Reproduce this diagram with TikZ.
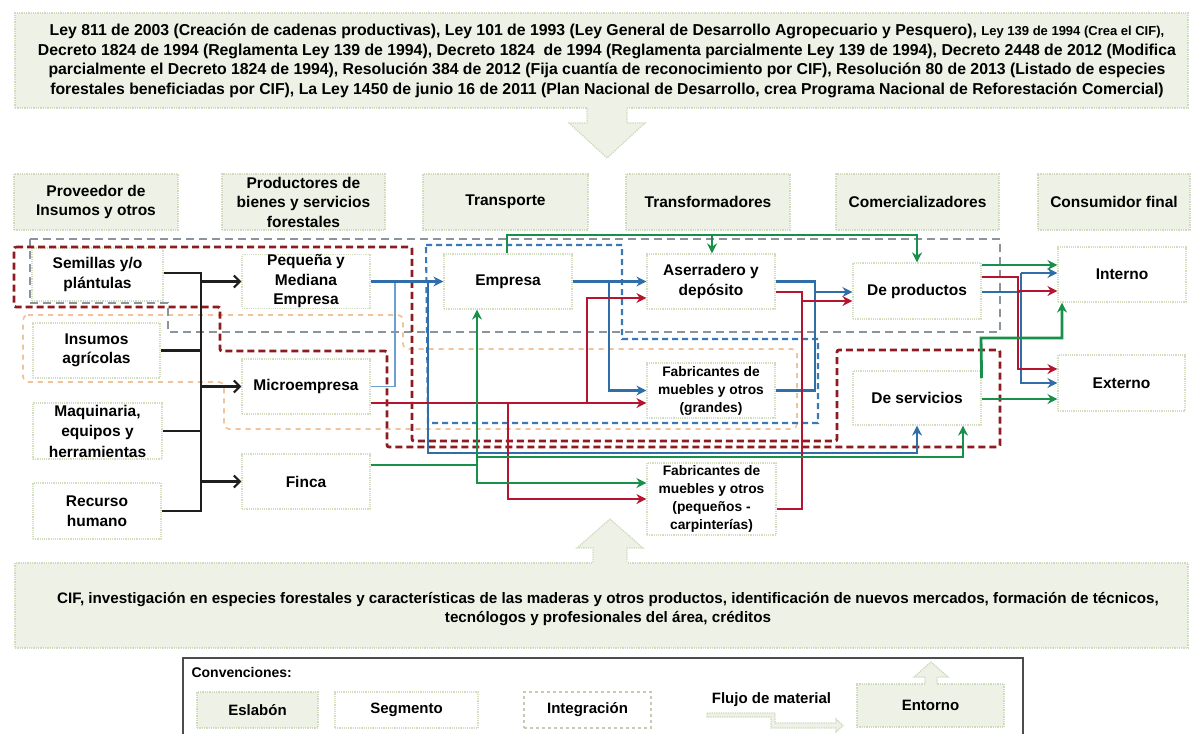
\documentclass[tikz,border=0pt]{standalone}
\usepackage{fontspec}
\setmainfont{Liberation Sans}
\usetikzlibrary{arrows.meta}
\definecolor{efill}{HTML}{EEF1E5}
\definecolor{eline}{HTML}{D0DABD}
\definecolor{sline}{HTML}{D3DEC0}
\definecolor{cblue}{HTML}{2F6EA8}
\definecolor{lblue}{HTML}{6C9FD0}
\definecolor{cred}{HTML}{B5152E}
\definecolor{cgreen}{HTML}{18904A}
\definecolor{dred}{HTML}{8E1B1F}
\definecolor{dgray}{HTML}{8B939B}
\definecolor{dblue}{HTML}{3B78B6}
\definecolor{dorange}{HTML}{EFC39C}
\definecolor{cblack}{HTML}{1E1E1E}
\definecolor{iline}{HTML}{C6CCB4}
\tikzset{
  toptext/.style={font=\bfseries\fontsize{15.8}{19.5}\selectfont},
  bottext/.style={font=\bfseries\fontsize{15.2}{19.5}\selectfont},
  eslabon/.style={draw=eline, line width=1.3pt, densely dotted, fill=efill, align=center, inner sep=0pt,
    font=\bfseries\fontsize{15.5}{19.5}\selectfont},
  segmento/.style={draw=sline, line width=1.2pt, densely dotted, fill=white, align=center, inner sep=0pt,
    font=\bfseries\fontsize{15.5}{19.5}\selectfont},
  smalltext/.style={font=\bfseries\fontsize{13.8}{18}\selectfont},
  envbox/.style={draw=eline, line width=1.3pt, densely dotted, fill=efill, inner sep=0pt},
  envarrow/.style={fill=efill, draw=eline, line width=1.3pt, densely dotted},
  legfont/.style={font=\bfseries\fontsize{15}{18}\selectfont},
  convfont/.style={font=\bfseries\fontsize{14}{17}\selectfont},
  blk/.style={draw=cblack, line width=2.2pt},
  blkarr/.style={blk, -{Straight Barb[length=6pt,width=12pt]}},
  arr/.style={-{Stealth[length=10pt,width=10pt]}},
  blu/.style={draw=cblue, line width=2.2pt},
  lblu/.style={draw=lblue, line width=1.6pt},
  redl/.style={draw=cred, line width=2.8pt},
  grn/.style={draw=cgreen, line width=2.8pt},
  rdash/.style={draw=dred, line width=2.8pt, dash pattern=on 7pt off 4pt, rounded corners=2pt},
  gdash/.style={draw=dgray, line width=2.6pt, dash pattern=on 8pt off 5pt},
  bdash/.style={draw=dblue, line width=2.1pt, dash pattern=on 6pt off 4pt},
  odash/.style={draw=dorange, line width=1.6pt, dash pattern=on 5pt off 5pt, rounded corners=5pt},
}
\begin{document}
\begin{tikzpicture}[x=1pt,y=-1pt]
\useasboundingbox (0,0) rectangle (1193,733);
\clip (0,0) rectangle (1193,733);
\fill[white] (0,0) rectangle (1193,733);

% ---------- environment boxes and block arrows ----------
\node[envbox, minimum width=1173pt, minimum height=95pt] (leyes) at (601.5,60.5) {};
\node[envbox, minimum width=1173pt, minimum height=85pt] (apoyo) at (601.5,605.5) {};
\fill[efill] (587,106) -- (627,106) -- (627,123) -- (645,123) -- (607,158) -- (569,123) -- (587,123) -- cycle;
\draw[envarrow, fill=none] (587,108.5) -- (587,123) -- (569,123) -- (607,158) -- (645,123) -- (627,123) -- (627,108.5);
\fill[efill] (593,565) -- (593,548) -- (577,548) -- (610,519) -- (643,548) -- (627,548) -- (627,565) -- cycle;
\draw[envarrow, fill=none] (593,562.5) -- (593,548) -- (577,548) -- (610,519) -- (643,548) -- (627,548) -- (627,562.5);

\node[toptext, align=center] (leyestxt) at (607,61) {Ley 811 de 2003 (Creación de cadenas productivas), Ley 101 de 1993 (Ley General de Desarrollo Agropecuario y Pesquero), {\fontsize{13}{19.5}\selectfont Ley 139 de 1994 (Crea el CIF),}\\
Decreto 1824 de 1994 (Reglamenta Ley 139 de 1994), Decreto 1824 \ de 1994 (Reglamenta parcialmente Ley 139 de 1994), Decreto 2448 de 2012 (Modifica\\
parcialmente el Decreto 1824 de 1994), Resolución 384 de 2012 (Fija cuantía de reconocimiento por CIF), Resolución 80 de 2013 (Listado de especies\\
forestales beneficiadas por CIF), La Ley 1450 de junio 16 de 2011 (Plan Nacional de Desarrollo, crea Programa Nacional de Reforestación Comercial)};

\node[bottext, align=center] (apoyotxt) at (608,609) {CIF, investigación en especies forestales y características de las maderas y otros productos, identificación de nuevos mercados, formación de técnicos,\\
tecnólogos y profesionales del área, créditos};

% ---------- eslabones ----------
\node[eslabon, minimum width=164pt, minimum height=56pt] (h1) at (96,202) {Proveedor de\\Insumos y otros};
\node[eslabon, minimum width=163pt, minimum height=56pt] (h2) at (303.5,202) {Productores de\\bienes y servicios\\forestales};
\node[eslabon, minimum width=165pt, minimum height=56pt] (h3) at (505.5,202) {Transporte};
\node[eslabon, minimum width=164pt, minimum height=56pt] (h4) at (708,202) {Transformadores};
\node[eslabon, minimum width=163pt, minimum height=56pt] (h5) at (917.5,202) {Comercializadores};
\node[eslabon, minimum width=152pt, minimum height=56pt] (h6) at (1114,202) {Consumidor final};

% ---------- segmentos ----------
\node[segmento, minimum width=131pt, minimum height=53pt] (semillas) at (97.5,274.5) {Semillas y/o\\plántulas};
\node[segmento, minimum width=127pt, minimum height=55pt] (insumos) at (96.5,350.5) {Insumos\\agrícolas};
\node[segmento, minimum width=129pt, minimum height=56pt, font=\bfseries\fontsize{15.5}{20.5}\selectfont] (maquinaria) at (97.5,431) {Maquinaria,\\equipos y\\herramientas};
\node[segmento, minimum width=128pt, minimum height=56pt] (recurso) at (97,511) {Recurso\\humano};
\node[segmento, minimum width=128pt, minimum height=53pt] (pyme) at (306,281.5) {Pequeña y\\Mediana\\Empresa};
\node[segmento, minimum width=128pt, minimum height=55pt] (micro) at (306,386.5) {Microempresa};
\node[segmento, minimum width=128pt, minimum height=55pt] (finca) at (306,481.5) {Finca};
\node[segmento, minimum width=128pt, minimum height=55pt] (empresa) at (508,281.5) {Empresa};
\node[segmento, minimum width=128pt, minimum height=55pt] (aserr) at (711,281.5) {Aserradero y\\depósito};
\node[segmento, smalltext, minimum width=128pt, minimum height=55pt] (fabg) at (711,390.5) {Fabricantes de\\muebles y otros\\(grandes)};
\node[segmento, smalltext, minimum width=129pt, minimum height=72pt] (fabp) at (711.5,499) {Fabricantes de\\muebles y otros\\(pequeños -\\carpinterías)};
\node[segmento, minimum width=128pt, minimum height=56pt] (deprod) at (917,291) {De productos};
\node[segmento, minimum width=128pt, minimum height=54pt] (deserv) at (917,398) {De servicios};
\node[segmento, minimum width=128pt, minimum height=55pt] (interno) at (1122,274.5) {Interno};
\node[segmento, minimum width=127pt, minimum height=56pt] (externo) at (1121.5,383) {Externo};

% ---------- integraciones ----------
\draw[odash] (23,315) -- (403,315) -- (403,349) -- (797,349) -- (797,429) -- (224,429) -- (224,382) -- (23,382) -- cycle;
\draw[gdash] (30,239) -- (1000,239) -- (1000,332) -- (168,332) -- (168,303) -- (30,303) -- cycle;
\draw[bdash] (426,245) -- (622,245) -- (622,339) -- (818,339) -- (818,423) -- (428,423) -- cycle;
\draw[rdash] (14,247) -- (412,247) -- (412,441) -- (837,441) -- (837,350) -- (1000,350) -- (1000,447) -- (387,447) -- (387,351) -- (220,351) -- (220,307) -- (14,307) -- cycle;

% ---------- black flows ----------
\coordinate (bt) at (201,273);
\coordinate (bb) at (201,511);
\draw[blk] (semillas.east |- bt) -- (bt) -- (bb) -- (recurso.east |- bb);
\draw[blk] (insumos.east) -- (insumos.east -| bt);
\draw[blk] (maquinaria.east) -- (maquinaria.east -| bt);
\draw[blkarr] (bt |- pyme.west) -- (pyme.west);
\draw[blkarr] (bt |- micro.west) -- (micro.west);
\draw[blkarr] (bt |- finca.west) -- (finca.west);

% ---------- blue flows ----------
\draw[lblu] (micro.east) -- (395,386.5) -- (395,281.5);
\draw[blu, arr] (pyme.east) -- (empresa.west);
\draw[blu, arr] (428,281.5) -- (428,453) -| (deserv.south);
\draw[blu, arr] (empresa.east) -- (aserr.west);
\draw[blu, arr] (609,281.5) |- (fabg.west);
\draw[blu, arr] (aserr.east) -- (815,281.5) -- (815,292) -- (deprod.west |- 0,292);
\draw[blu] (fabg.east) -| (815,292);
\draw[blu] (deprod.east |- 0,292) -- (1021,292);
\draw[blu, arr] (1021,273) -- (interno.west |- 0,273);
\draw[blu, arr] (1021,273) |- (externo.west |- 0,383);

% ---------- red flows ----------
\draw[redl, arr] (micro.east |- 0,403) -- (fabg.west |- 0,403);
\draw[redl, arr] (587,403) |- (aserr.west |- 0,298);
\draw[redl, arr] (508,403) |- (fabp.west);
\draw[redl, arr] (aserr.east |- 0,292) -| (802,301) -- (deprod.west |- 0,301);
\draw[redl] (fabp.east |- 0,509) -| (802,301);
\draw[redl, arr] (deprod.east |- 0,277) -| (1018,369) -- (externo.west |- 0,369);
\draw[redl, arr] (1018,291) -- (interno.west |- 0,291);

% ---------- green flows ----------
\draw[grn, arr] (finca.east |- 0,465) -| (empresa.south -| 477,0);
\draw[grn, arr] (477,465) |- (fabp.west |- 0,483);
\draw[grn, arr] (477,457) -| (deserv.south -| 963,0);
\draw[grn, arr] (empresa.north -| 507,0) |- (917,235) -- (deprod.north);
\draw[grn, arr] (712,235) -- (aserr.north -| 712,0);
\draw[grn, arr] (deprod.east |- 0,265) -- (interno.west |- 0,265);
\draw[grn, arr] (deserv.east |- 0,378) -- (981,338) -| (interno.south -| 1062,0);
\draw[grn, arr] (deserv.east |- 0,399) -- (externo.west |- 0,399);

% ---------- legend ----------
\draw[draw=black!70, line width=1.5pt] (183,658) rectangle (1023,760);
\node[convfont, anchor=west] (conv) at (188,672) {Convenciones:};
\node[eslabon, legfont, minimum width=121pt, minimum height=36pt] (les) at (257.5,710) {Eslabón};
\node[segmento, legfont, minimum width=143pt, minimum height=36pt] (lseg) at (406.5,710) {Segmento};
\node[legfont, draw=iline, line width=1.2pt, dash pattern=on 3pt off 3pt, fill=white, minimum width=127pt, minimum height=36pt] (lint) at (587.5,710) {Integración};
\node[legfont] (lflu) at (771.5,700) {Flujo de material};
\draw[envarrow] (707,713) -- (775,713) -- (775,723) -- (836,723) -- (836,719) -- (843,725.5) -- (836,732) -- (836,728) -- (771,728) -- (771,717) -- (707,717) -- cycle;
\node[eslabon, legfont, minimum width=147pt, minimum height=43pt] (lent) at (930.5,705.5) {Entorno};
\fill[efill] (925,685) -- (925,677) -- (914,677) -- (931,662) -- (948,677) -- (937,677) -- (937,685) -- cycle;
\draw[envarrow, fill=none] (925,683) -- (925,677) -- (914,677) -- (931,662) -- (948,677) -- (937,677) -- (937,683);
\end{tikzpicture}
\end{document}
